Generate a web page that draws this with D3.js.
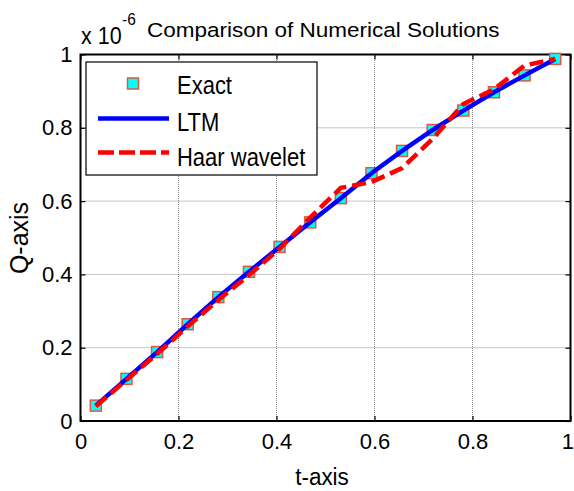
<!DOCTYPE html>
<html>
<head>
<meta charset="utf-8">
<script src="https://cdn.jsdelivr.net/npm/d3@7"></script>
<style>
  body { margin: 0; background: #fff; }
  text { font-family: "Liberation Sans", Arial, sans-serif; fill: #000; }
</style>
</head>
<body>
<svg id="chart"></svg>
<script>
// collocation points t_k = (k - 0.5) / 16
const tValues = [0.03125, 0.09375, 0.15625, 0.21875, 0.28125, 0.34375, 0.40625, 0.46875,
                 0.53125, 0.59375, 0.65625, 0.71875, 0.78125, 0.84375, 0.90625, 0.96875];
const exactValues = [0.042, 0.115, 0.188, 0.264, 0.338, 0.407, 0.475, 0.542,
                     0.608, 0.676, 0.737, 0.794, 0.847, 0.897, 0.943, 0.988];
const ltmValues = [0.042, 0.115, 0.188, 0.264, 0.338, 0.407, 0.475, 0.542,
                   0.608, 0.676, 0.737, 0.794, 0.847, 0.897, 0.943, 0.988];
const haarValues = [0.040, 0.112, 0.183, 0.258, 0.330, 0.398, 0.470, 0.555,
                    0.636, 0.652, 0.690, 0.770, 0.865, 0.905, 0.970, 0.988];
const tickValues = [0, 0.2, 0.4, 0.6, 0.8, 1];
const legendLabels = ["Exact", "LTM", "Haar wavelet"];

const svg = d3.select("#chart")
  .attr("width", 574)
  .attr("height", 491);

const x = d3.scaleLinear().domain([0, 1]).range([80.5, 570.5]);
const y = d3.scaleLinear().domain([0, 1]).range([421, 54.5]);

// grid
const grid = svg.append("g")
  .attr("stroke", "#8c8c8c")
  .attr("stroke-width", 1)
  .attr("stroke-dasharray", "1,1");
grid.selectAll(".gx")
  .data(tickValues.slice(1, -1))
  .join("line")
  .attr("x1", d => x(d)).attr("x2", d => x(d))
  .attr("y1", y(0)).attr("y2", y(1));
grid.selectAll(".gy")
  .data(tickValues.slice(1, -1))
  .join("line")
  .attr("x1", x(0)).attr("x2", x(1))
  .attr("y1", d => y(d)).attr("y2", d => y(d));

// axes with inward ticks, mirrored on top/right
const fmt = d => d === 0 || d === 1 ? String(d) : d3.format(".1f")(d);
function styleAxis(g) {
  g.select(".domain").remove();
  g.selectAll(".tick line").attr("stroke", "#000").attr("stroke-width", 1.2);
  g.selectAll(".tick text")
    .style("font-family", "'Liberation Sans', Arial, sans-serif")
    .style("font-size", "22px")
    .attr("fill", "#000");
}
svg.append("g")
  .attr("transform", `translate(0,${y(0)})`)
  .call(d3.axisBottom(x).tickValues(tickValues).tickFormat(fmt).tickSizeInner(-5).tickPadding(12))
  .call(styleAxis)
  .selectAll(".tick text")
  .filter(d => d === 1)
  .attr("text-anchor", "end")
  .attr("dx", 3);
svg.append("g")
  .attr("transform", `translate(${x(0)},0)`)
  .call(d3.axisLeft(y).tickValues(tickValues).tickFormat(fmt).tickSizeInner(-5).tickPadding(8))
  .call(styleAxis);
svg.append("g")
  .attr("transform", `translate(0,${y(1)})`)
  .call(d3.axisTop(x).tickValues(tickValues).tickFormat("").tickSizeInner(-5))
  .call(styleAxis);
svg.append("g")
  .attr("transform", `translate(${x(1)},0)`)
  .call(d3.axisRight(y).tickValues(tickValues).tickFormat("").tickSizeInner(-5))
  .call(styleAxis);

// frame
svg.append("rect")
  .attr("x", x(0)).attr("y", y(1))
  .attr("width", x(1) - x(0)).attr("height", y(0) - y(1))
  .attr("fill", "none").attr("stroke", "#000").attr("stroke-width", 2);

// series
const exactData = tValues.map((t, i) => ({ t, v: exactValues[i] }));
const ltmData = tValues.map((t, i) => ({ t, v: ltmValues[i] }));
const haarData = tValues.map((t, i) => ({ t, v: haarValues[i] }));

const line = d3.line().x(d => x(d.t)).y(d => y(d.v));
const sq = 11;

svg.append("g").selectAll("rect")
  .data(exactData)
  .join("rect")
  .attr("x", d => x(d.t) - sq / 2)
  .attr("y", d => y(d.v) - sq / 2)
  .attr("width", sq).attr("height", sq)
  .attr("fill", "#00ffff")
  .attr("stroke", "#e0583c")
  .attr("stroke-width", 1.5);

svg.append("path")
  .datum(ltmData)
  .attr("fill", "none")
  .attr("stroke", "#0000ff")
  .attr("stroke-width", 4.5)
  .attr("d", line);

svg.append("path")
  .datum(haarData)
  .attr("fill", "none")
  .attr("stroke", "#ff0000")
  .attr("stroke-width", 4.5)
  .attr("stroke-dasharray", "14,6")
  .attr("d", line);

// stretched text helper
function label(tx, ty, str, size, sy, anchor) {
  return svg.append("text")
    .attr("transform", `translate(${tx},${ty}) scale(1,${sy})`)
    .attr("text-anchor", anchor || "start")
    .style("font-size", size + "px")
    .text(str);
}

// legend
const lg = svg.append("g");
lg.append("rect")
  .attr("x", 86).attr("y", 62)
  .attr("width", 231).attr("height", 113)
  .attr("fill", "#fff").attr("stroke", "#000").attr("stroke-width", 1.2);
const legendRows = [94, 130.5, 165.5];
lg.append("rect")
  .attr("x", 133 - sq / 2).attr("y", 83.5 - sq / 2)
  .attr("width", sq).attr("height", sq)
  .attr("fill", "#00ffff").attr("stroke", "#e0583c").attr("stroke-width", 1.5);
lg.append("line")
  .attr("x1", 98).attr("x2", 169).attr("y1", 118.5).attr("y2", 118.5)
  .attr("stroke", "#0000ff").attr("stroke-width", 4.5);
lg.append("line")
  .attr("x1", 98).attr("x2", 169).attr("y1", 152.5).attr("y2", 152.5)
  .attr("stroke", "#ff0000").attr("stroke-width", 4.5)
  .attr("stroke-dasharray", "16,5");
legendLabels.forEach((s, i) => label(177, legendRows[i], s, 22, 1.15));

// title and exponent
label(147, 37, "Comparison of Numerical Solutions", 22.5, 0.92);
label(81, 43.5, "x 10", 21.5, 1.15);
label(122, 25, "-6", 15.5, 1.1);

// axis labels
label(322, 485, "t-axis", 22.5, 1.05, "middle");
svg.append("text")
  .attr("transform", "translate(28,238) rotate(-90)")
  .attr("text-anchor", "middle")
  .style("font-size", "25px")
  .text("Q-axis");
</script>
</body>
</html>
